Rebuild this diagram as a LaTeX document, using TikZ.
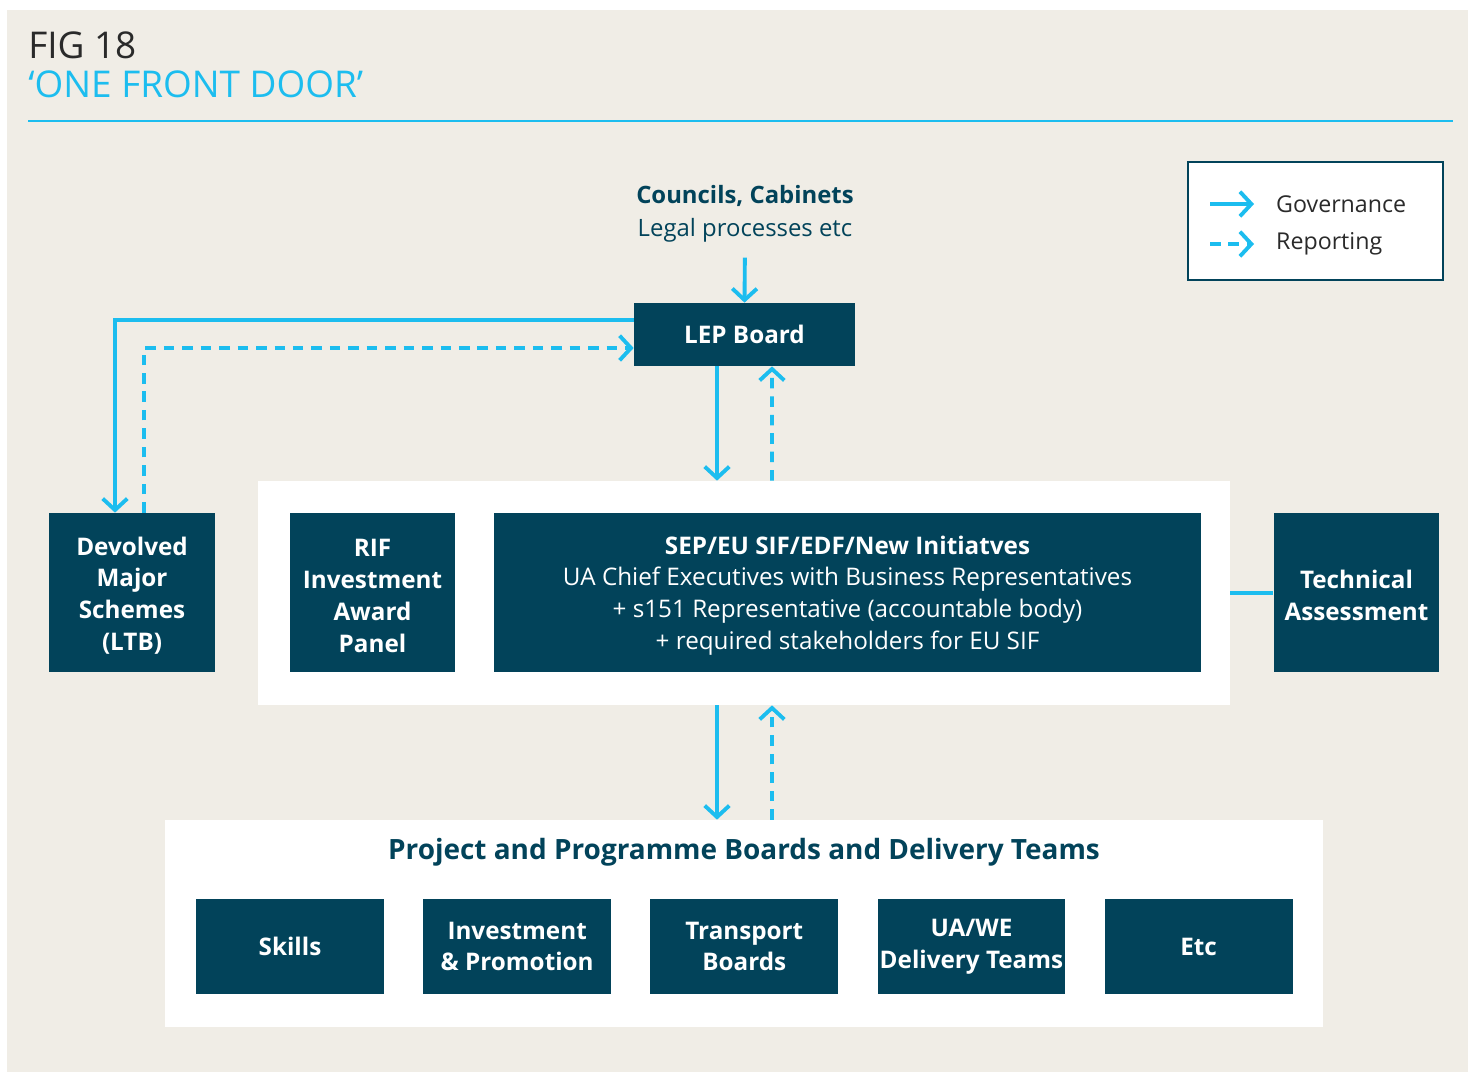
\documentclass[tikz,border=0pt]{standalone}
\usepackage{fontspec}
\setmainfont{Open Sans}
\usetikzlibrary{arrows.meta,positioning,calc}
\definecolor{lepteal}{HTML}{02435A}
\definecolor{lepcyan}{HTML}{1CBDEF}
\definecolor{lepbeige}{HTML}{F0EDE6}
\definecolor{lepgrey}{HTML}{2A2A2A}
\newcommand{\lepstrut}{\rule{0pt}{14pt}}

\begin{document}
\begin{tikzpicture}[x=0.02cm, y=-0.02cm,
  box/.style={rectangle, fill=lepteal, text=white, align=center, inner sep=0pt,
              font=\fontsize{13.8}{18.1}\selectfont\bfseries},
  tallbox/.style={box, minimum width=3.32cm, minimum height=3.18cm},
  teambox/.style={box, minimum width=3.76cm, minimum height=1.9cm},
  panel/.style={rectangle, fill=white, inner sep=0pt},
  gov/.style={-{Straight Barb[length=6.5pt, width=14pt]}, draw=lepcyan, line width=2.2pt},
  rep/.style={gov, dash pattern=on 6pt off 4.5pt},
  legtext/.style={anchor=west, text=lepgrey, font=\fontsize{13.2}{16}\selectfont}
]
  \useasboundingbox (0,0) rectangle (1468,1072);
  \fill[lepbeige] (7,10) rectangle (1468,1072);

  % heading
  \node[anchor=base west, inner sep=0pt, text=lepgrey, font=\fontsize{21}{25}\selectfont] (fig) at (28,58) {FIG 18};
  \node[anchor=base west, inner sep=0pt, text=lepcyan, font=\fontsize{21}{25}\selectfont] (title) at (28,97) {‘ONE FRONT DOOR’};
  \draw[lepcyan, line width=1.3pt] (28,121) -- (1453,121);

  % legend
  \node[rectangle, draw=lepteal, line width=0.8pt, fill=white, minimum width=5.1cm,
        minimum height=2.36cm, inner sep=0pt] (legend) at (1315.5,221) {};
  \node[legtext] (govtxt) at (1270,204) {Governance};
  \node[legtext] (reptxt) at (1270,244) {Reporting};
  \coordinate (govstart) at (1210,204);
  \coordinate (repstart) at (1210,244);
  \draw[gov, shorten >=0.32cm] (govstart) -- (govtxt.west);
  \draw[rep, shorten >=0.32cm] (repstart) -- (reptxt.west);

  % top
  \node[align=center, text=lepteal, inner sep=0pt, font=\fontsize{13.6}{18.7}\selectfont] (councils) at (745,214)
       {\textbf{Councils, Cabinets}\\Legal processes etc};
  \node[box, minimum width=4.42cm, minimum height=1.26cm] (lep) at (744.5,334.5) {LEP Board};

  % middle
  \node[panel, minimum width=19.44cm, minimum height=4.48cm] (panel) at (744,593) {};
  \node[tallbox] (devolved) at (132,592.5) {\lepstrut Devolved\\Major\\Schemes\\(LTB)};
  \node[tallbox] (rif) at (372.5,592.5) {\lepstrut RIF\\Investment\\Award\\Panel};
  \node[box, minimum width=14.14cm, minimum height=3.18cm] (sep) at (847.5,592.5)
       {\lepstrut SEP/EU SIF/EDF/New Initiatves\\
        \mdseries UA Chief Executives with Business Representatives\\
        \mdseries + s151 Representative (accountable body)\\
        \mdseries + required stakeholders for EU SIF};
  \node[tallbox] (tech) at (1356.5,592.5) {\lepstrut Technical\\Assessment};

  % bottom
  \node[panel, minimum width=23.16cm, minimum height=4.14cm] (delivery) at (744,923.5) {};
  \node[text=lepteal, inner sep=0pt, font=\fontsize{15.9}{18}\selectfont\bfseries] (deltitle) at (744,852)
       {Project and Programme Boards and Delivery Teams};
  \node[teambox] (skills) at (290,946.5) {Skills};
  \node[teambox, right=0.77cm of skills] (invest) {Investment\\\& Promotion};
  \node[teambox, right=0.77cm of invest] (transport) {Transport\\Boards};
  \node[teambox, right=0.77cm of transport] (uawe) {UA/WE\\Delivery Teams};
  \node[teambox, right=0.77cm of uawe] (etc) {Etc};

  % connectors
  \draw[gov, shorten <=0.3cm] (councils.south) -- (lep.north);
  \draw[gov] ($(lep.west)+(0,-14.5)$) -| ($(devolved.north)+(-17,0)$);
  \draw[rep] ($(devolved.north)+(12,0)$) |- ($(lep.west)+(0,13.5)$);
  \draw[gov] ($(lep.south)+(-27.5,0)$) -- ($(panel.north)+(-27,0)$);
  \draw[rep] ($(panel.north)+(28,0)$) -- ($(lep.south)+(27.5,0)$);
  \draw[gov] ($(panel.south)+(-27,0)$) -- ($(delivery.north)+(-27,0)$);
  \draw[rep] ($(delivery.north)+(28,0)$) -- ($(panel.south)+(28,0)$);
  \draw[lepcyan, line width=2.2pt] (panel.east) -- (panel.east -| tech.west);
\end{tikzpicture}
\end{document}
